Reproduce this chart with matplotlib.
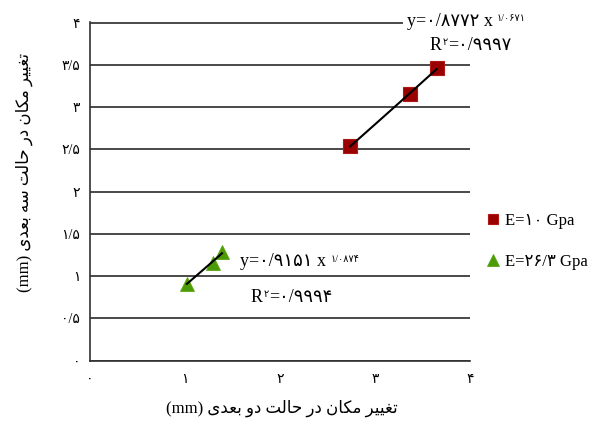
import numpy as np
import matplotlib.pyplot as plt

plt.rcParams['font.family'] = ['Liberation Serif', 'DejaVu Sans']

# displacement 2D (x) vs 3D (y), mm
x_e10 = [2.74, 3.37, 3.65]
y_e10 = [2.54, 3.16, 3.46]
x_e26 = [1.02, 1.29, 1.39]
y_e26 = [0.91, 1.16, 1.28]

series_labels = ['E=10 Gpa', 'E=26/3 Gpa']
xticks = [0, 1, 2, 3, 4]
yticks = [0, 0.5, 1, 1.5, 2, 2.5, 3, 3.5, 4]
ytick_labels = ['0', '0/5', '1', '1/5', '2', '2/5', '3', '3/5', '4']

eq_e10 = ('y=0/8772 x', '1/0671', '=0/9997')
eq_e26 = ('y=0/9151 x', '1/0874', '=0/9994')

xlabel = 'تغییر مکان در حالت دو بعدی'
ylabel = 'تغییر مکان در حالت سه بعدی'

# contextual forms: isolated, final, initial, medial
FORMS = {
    'ا': (0xFE8D, 0xFE8E), 'د': (0xFEA9, 0xFEAA),
    'ر': (0xFEAD, 0xFEAE), 'و': (0xFEED, 0xFEEE),
    'ب': (0xFE8F, 0xFE90, 0xFE91, 0xFE92), 'ت': (0xFE95, 0xFE96, 0xFE97, 0xFE98),
    'ح': (0xFEA1, 0xFEA2, 0xFEA3, 0xFEA4), 'س': (0xFEB1, 0xFEB2, 0xFEB3, 0xFEB4),
    'ع': (0xFEC9, 0xFECA, 0xFECB, 0xFECC), 'غ': (0xFECD, 0xFECE, 0xFECF, 0xFED0),
    'ل': (0xFEDD, 0xFEDE, 0xFEDF, 0xFEE0), 'م': (0xFEE1, 0xFEE2, 0xFEE3, 0xFEE4),
    'ن': (0xFEE5, 0xFEE6, 0xFEE7, 0xFEE8), 'ه': (0xFEE9, 0xFEEA, 0xFEEB, 0xFEEC),
    'ک': (0xFB8E, 0xFB8F, 0xFB90, 0xFB91), 'ی': (0xFBFC, 0xFBFD, 0xFBFE, 0xFBFF),
}


def shape(text):
    out = []
    for i, ch in enumerate(text):
        f = FORMS.get(ch)
        if f is None:
            out.append(ch)
            continue
        prev = FORMS.get(text[i - 1]) if i > 0 else None
        nxt = text[i + 1] if i + 1 < len(text) else ''
        jp = prev is not None and len(prev) == 4
        jn = len(f) == 4 and nxt in FORMS
        if jp and jn:
            c = f[3]
        elif jp:
            c = f[1]
        elif jn:
            c = f[2]
        else:
            c = f[0]
        out.append(chr(c))
    # visual (left-to-right) order
    return ''.join(out)[::-1]


def fa_num(s):
    return ''.join(chr(0x06F0 + int(c)) if c.isdigit() else c for c in s)


fig = plt.figure(figsize=(5.9, 4.21), dpi=100)
ax = fig.add_axes([90 / 590, 1 - 360.5 / 421, 380 / 590, 338.5 / 421])


def px(x, y):
    return x / 590, 1 - y / 421


# power trendlines (fit on logs like excel)
for xs, ys in [(x_e10, y_e10), (x_e26, y_e26)]:
    b, la = np.polyfit(np.log(xs), np.log(ys), 1)
    xx = np.linspace(min(xs), max(xs), 50)
    ax.plot(xx, np.exp(la) * xx ** b, color='black', lw=1.5, zorder=4)

h1, = ax.plot(x_e10, y_e10, 's', ms=9.5, mfc='#990000', mec='#b01818', mew=0.8,
              ls='none', zorder=3)
h2, = ax.plot(x_e26, y_e26, '^', ms=10.5, mfc='#4c9a06', mec='#5aa812', mew=0.6,
              ls='none', zorder=3)

ax.set_xlim(0, 4)
ax.set_ylim(0, 4.01)
ax.set_xticks(xticks)
ax.set_xticklabels([fa_num(str(t)) for t in xticks], fontsize=10)
ax.set_yticks(yticks)
ax.set_yticklabels([fa_num(t) for t in ytick_labels], fontsize=10)
ax.tick_params(axis='x', length=0, pad=9)
ax.tick_params(axis='y', length=0, pad=7)
ax.yaxis.grid(True, color='#2a2a2a', lw=1.2)
ax.set_axisbelow(True)
for s in ['top', 'right']:
    ax.spines[s].set_visible(False)
for s in ['left', 'bottom']:
    ax.spines[s].set_color('#303030')
    ax.spines[s].set_linewidth(1.2)


def equation(eq, pos_y, pos_r):
    t = fig.text(*px(*pos_y), fa_num(eq[0]), fontsize=13, va='center', ha='left',
                 bbox=dict(fc='white', ec='none', pad=3))
    ax.annotate(fa_num(eq[1]), xy=(1, 1), xycoords=t, xytext=(3, -1),
                textcoords='offset points', fontsize=7, va='top', ha='left')
    r = fig.text(*px(*pos_r), 'R', fontsize=13, va='center', ha='left')
    s = ax.annotate(fa_num('2'), xy=(1, 1), xycoords=r, xytext=(0.5, -1),
                    textcoords='offset points', fontsize=7, va='top', ha='left')
    ax.annotate(fa_num(eq[2]), xy=(1, 0), xycoords=(s, r), fontsize=13,
                va='bottom', ha='left')


equation(eq_e10, (407, 21), (430, 45))
equation(eq_e26, (240, 262), (251, 297))

fig.legend([h1, h2], [fa_num(l) for l in series_labels], loc='upper left',
           bbox_to_anchor=px(472, 198), frameon=False, fontsize=12,
           handlelength=0.7, handletextpad=0.4, labelspacing=1.5, markerscale=0.8)

fig.text(*px(282, 408), '(mm) ' + shape(xlabel), fontsize=12, ha='center', va='center')
fig.text(*px(24, 172), '(mm) ' + shape(ylabel), fontsize=12, ha='center', va='center',
         rotation=90)

fig.savefig('out.png', dpi=100)
